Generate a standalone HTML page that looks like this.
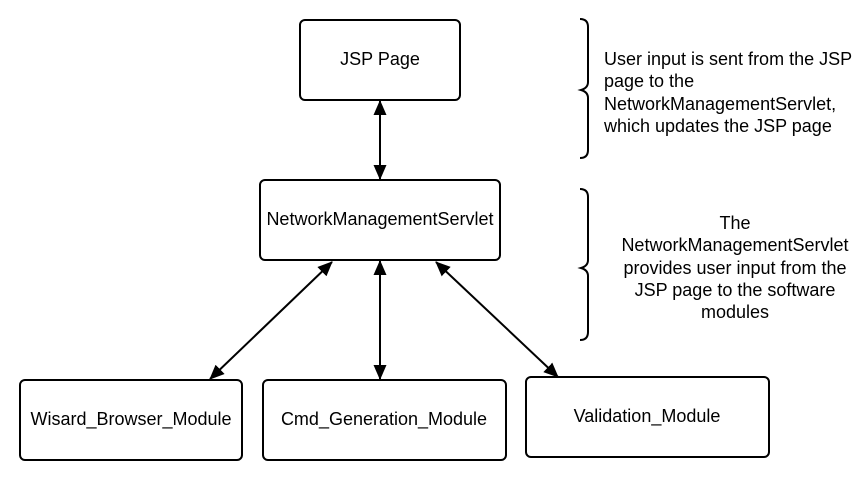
<!DOCTYPE html>
<html><head><style>
body{margin:0;background:#fff;width:860px;height:476px;overflow:hidden}
svg text{font-family:"Liberation Sans",sans-serif;font-size:18px;fill:#000}
</style></head><body>
<svg width="860" height="476" xmlns="http://www.w3.org/2000/svg">
<defs><marker id="a" markerWidth="16" markerHeight="14" refX="14" refY="7" orient="auto-start-reverse" markerUnits="userSpaceOnUse"><path d="M0,0.5 L15,7 L0,13.5 z" fill="#000"/></marker></defs>
<g fill="#fff" stroke="#000" stroke-width="2">
<rect x="300" y="20" width="160" height="80" rx="5"/>
<rect x="260" y="180" width="240" height="80" rx="5"/>
<rect x="20" y="380" width="222" height="80" rx="5"/>
<rect x="263" y="380" width="243" height="80" rx="5"/>
<rect x="526" y="377" width="243" height="80" rx="5"/>
</g>
<g stroke="#000" stroke-width="2" marker-start="url(#a)" marker-end="url(#a)">
<line x1="380" y1="101" x2="380" y2="179"/>
<line x1="380" y1="261" x2="380" y2="379"/>
<line x1="332" y1="262" x2="210" y2="379"/>
<line x1="436" y1="262" x2="558" y2="377"/>
</g>
<g fill="none" stroke="#000" stroke-width="2">
<path d="M580,19 Q588,19 588,27 L588,82 Q588,88 581,90 Q588,92 588,98 L588,150 Q588,158 580,158"/>
<path d="M580,189 Q588,189 588,197 L588,260 Q588,266 581,268 Q588,270 588,276 L588,332 Q588,340 580,340"/>
</g>
<g text-anchor="middle">
<text x="380" y="65">JSP Page</text>
<text x="380" y="225">NetworkManagementServlet</text>
<text x="131" y="425">Wisard_Browser_Module</text>
<text x="384" y="425">Cmd_Generation_Module</text>
<text x="647" y="422">Validation_Module</text>
<text x="735" y="229">The</text>
<text x="735" y="251">NetworkManagementServlet</text>
<text x="735" y="274">provides user input from the</text>
<text x="735" y="296">JSP page to the software</text>
<text x="735" y="318">modules</text>
</g>
<text x="604" y="65">User input is sent from the JSP</text>
<text x="604" y="87">page to the</text>
<text x="604" y="110">NetworkManagementServlet,</text>
<text x="604" y="132">which updates the JSP page</text>
</svg>
</body></html>
